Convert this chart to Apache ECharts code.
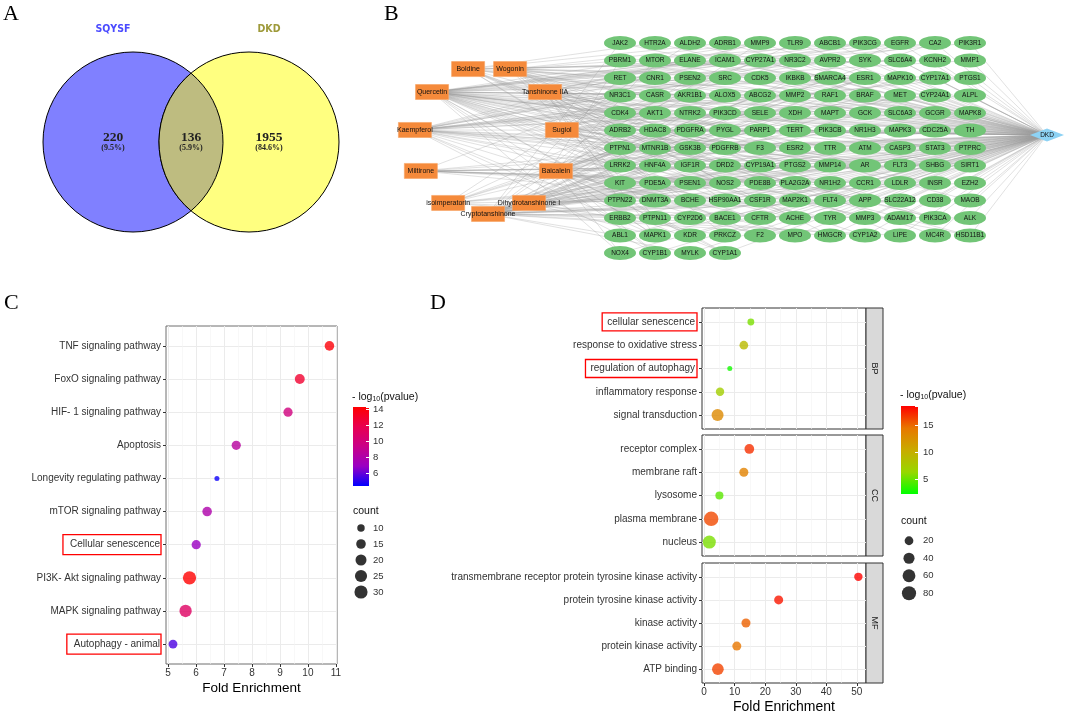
<!DOCTYPE html>
<html><head><meta charset="utf-8">
<script src="https://cdn.jsdelivr.net/npm/echarts@6/dist/echarts.min.js"></script>
<style>html,body{margin:0;padding:0;background:#fff}#c{width:1065px;height:717px}</style>
</head><body><div id="c"></div>
<script>
// ===== Panel A : Venn =====
const vennSets = ['SQYSF', 'DKD'];
const vennRegions = ['SQYSF only', 'DKD only', 'both'];
const vennCounts = [220, 1955, 136];

// ===== Panel B : network =====
const compounds = ['Boldine','Wogonin','Quercetin','Tanshinone IIA','Kaempferol','Sugiol','Miltirone','Baicalein','isoimperatorin','Dihydrotanshinone I','Cryptotanshinone'];
const targets = [
 'JAK2','HTR2A','ALDH2','ADRB1','MMP9','TLR9','ABCB1','PIK3CG','EGFR','CA2','PIK3R1',
 'PBRM1','MTOR','ELANE','ICAM1','CYP27A1','NR3C2','AVPR2','SYK','SLC6A4','KCNH2','MMP1',
 'RET','CNR1','PSEN2','SRC','CDK5','IKBKB','SMARCA4','ESR1','MAPK10','CYP17A1','PTGS1',
 'NR3C1','CASR','AKR1B1','ALOX5','ABCG2','MMP2','RAF1','BRAF','MET','CYP24A1','ALPL',
 'CDK4','AKT1','NTRK2','PIK3CD','SELE','XDH','MAPT','GCK','SLC6A3','GCGR','MAPK8',
 'ADRB2','HDAC8','PDGFRA','PYGL','PARP1','TERT','PIK3CB','NR1H3','MAPK3','CDC25A','TH',
 'PTPN1','MTNR1B','GSK3B','PDGFRB','F3','ESR2','TTR','ATM','CASP3','STAT3','PTPRC',
 'LRRK2','HNF4A','IGF1R','DRD2','CYP19A1','PTGS2','MMP14','AR','FLT3','SHBG','SIRT1',
 'KIT','PDE5A','PSEN1','NOS2','PDE8B','PLA2G2A','NR1H2','CCR1','LDLR','INSR','EZH2',
 'PTPN22','DNMT3A','BCHE','HSP90AA1','CSF1R','MAP2K1','FLT4','APP','SLC22A12','CD38','MAOB',
 'ERBB2','PTPN11','CYP2D6','BACE1','CFTR','ACHE','TYR','MMP3','ADAM17','PIK3CA','ALK',
 'ABL1','MAPK1','KDR','PRKCZ','F2','MPO','HMGCR','CYP1A2','LIPE','MC4R','HSD11B1',
 'NOX4','CYP1B1','MYLK','CYP1A1'];
const disease = 'DKD';
const linksBoldine = ['ADRB1','ADRB2','HTR2A','AVPR2','CNR1','DRD2','ACHE','BCHE','KCNH2','SLC6A4','SLC6A3','MC4R','MTNR1B','CASR','PDE5A','TH','MAOB'];
const linksWogonin = ['PTGS1','PTGS2','ESR1','AR','CDK4','CDK5','AKT1','ALOX5','PIK3CG','ICAM1','CYP19A1','MMP9','MAPK8','NOS2','GSK3B','PDE5A','HSP90AA1','KIT','RAF1','CASP3','STAT3'];
const linksQuercetin = ['AKT1','MAPK1','MAPK3','MAPK8','PTGS1','PTGS2','ESR1','ESR2','AR','EGFR','SRC','MMP1','MMP2','MMP3','MMP9','ICAM1','SELE','CYP1A1','CYP1B1','CYP1A2','XDH','ALOX5','ABCG2','ABCB1','CA2','ACHE','HSP90AA1','NOS2','F2','F3','KDR','SYK','PARP1','CDK4','IGF1R','INSR','SIRT1','CASP3','AKR1B1','MPO','PIK3CG','PIK3CA','PIK3R1','STAT3','GSK3B','ELANE','NOX4','TERT','PDE5A','APP'];
const linksTanshinoneIIA = ['AR','ESR1','NOS2','PTGS2','CYP19A1','MAPK1','AKT1','PRKCZ','HMGCR','LIPE','PIK3CA','PIK3CG','PTPN1','PTPN11','PTPN22','CDC25A','ELANE','TTR','NR3C1','STAT3','MMP9'];
const linksKaempferol = ['PTGS1','PTGS2','ESR1','ESR2','AR','AKT1','CYP1A1','CYP1B1','CYP19A1','ALOX5','ABCG2','XDH','SRC','EGFR','IGF1R','MAPK1','PIK3CG','ICAM1','SELE','CA2','ACHE','HSD11B1','F2','NOS2','CDK4','GSK3B','MMP2','MMP9','SHBG','PARP1','CASP3'];
const linksSugiol = ['MAPK3','PIK3CA','NR3C1','NR3C2','CYP17A1','CYP24A1','AR','ESR1','ESR2','SHBG','CYP27A1','NR1H3','NR1H2','HSD11B1','ALPL','GCGR'];
const linksMiltirone = ['ESR2','SHBG','NR1H2','NR1H3','PDE5A','PDE8B','AR','NR3C1','PTGS2','NOS2','CYP19A1','HSP90AA1','PLA2G2A','CCR1'];
const linksBaicalein = ['ALOX5','PTGS2','XDH','AKR1B1','CYP1A1','CYP1B1','ABCG2','MMP2','MMP9','AKT1','MAPK1','EGFR','KDR','ESR1','SIRT1','CA2','NOX4','TYR','APP','BACE1','MPO','PARP1','GSK3B','CFTR','PTPN1','MTOR'];
const linksIsoimperatorin = ['ACHE','PTGS2','ESR1','AR','NOS2','BCHE','CYP1A2','PTPN1','ALDH2','TLR9','HDAC8','MAPT'];
const linksDihydrotanshinoneI = ['AR','ESR1','PTGS2','NOS2','CYP19A1','PTPN1','CDC25A','PRKCZ','MAPK1','LDLR','EZH2','DNMT3A','SMARCA4','PBRM1'];
const linksCryptotanshinone = ['AR','ESR1','ESR2','PTGS2','NOS2','STAT3','CYP19A1','JAK2','PTPN1','ATM','CDK4','HNF4A','LRRK2','RET','MET','ALK','BRAF','KIT','ERBB2','ABL1','FLT4','FLT3','CSF1R','PDGFRA','PDGFRB','IKBKB','MAP2K1','ADAM17','PSEN1','PSEN2','GCK','PYGL','RAF1','TERT','MYLK','CD38','SLC22A12','INSR','PTPRC','NTRK2','PIK3CD','PIK3CB','MAPK10','MMP14','DRD2','CYP2D6','HMGCR','LIPE'];

// ===== Panel C : KEGG =====
const keggTerms = ['TNF signaling pathway','FoxO signaling pathway','HIF- 1 signaling pathway','Apoptosis','Longevity regulating pathway','mTOR signaling pathway','Cellular senescence','PI3K- Akt signaling pathway','MAPK signaling pathway','Autophagy - animal'];
const keggFold = [10.77, 9.71, 9.29, 7.44, 6.75, 6.40, 6.01, 5.77, 5.63, 5.18];
const keggCount = [15, 16, 14, 14, 8, 15, 14, 31, 26, 13];
const keggLogP = [14.0, 12.8, 9.8, 8.4, 4.6, 7.9, 6.9, 14.25, 11.0, 5.6];
const keggBoxed = ['Cellular senescence', 'Autophagy - animal'];
const keggLogPRange = [4.4, 14.25];
const keggCountTicks = [10, 15, 20, 25, 30];

// ===== Panel D : GO =====
const goFacets = ['BP', 'CC', 'MF'];
const bpTerms = ['cellular senescence','response to oxidative stress','regulation of autophagy','inflammatory response','signal transduction'];
const bpFold = [15.3, 13.0, 8.4, 5.2, 4.4];
const bpCount = [11, 20, 8, 18, 50];
const bpLogP = [5.5, 9.0, 2.7, 7.1, 13.0];
const ccTerms = ['receptor complex','membrane raft','lysosome','plasma membrane','nucleus'];
const ccFold = [14.8, 13.0, 5.0, 2.3, 1.7];
const ccCount = [27, 22, 16, 85, 63];
const ccLogP = [16.9, 13.6, 4.6, 16.0, 5.5];
const mfTerms = ['transmembrane receptor protein tyrosine kinase activity','protein tyrosine kinase activity','kinase activity','protein kinase activity','ATP binding'];
const mfFold = [50.5, 24.4, 13.7, 10.7, 4.5];
const mfCount = [18, 22, 22, 22, 46];
const mfLogP = [18.4, 17.7, 15.2, 14.4, 16.2];
const goBoxed = ['cellular senescence', 'regulation of autophagy'];
const goLogPRange = [2.2, 18.5];
const goCountTicks = [20, 40, 60, 80];

// ===== layout & style (not data) =====
const SANS = 'Liberation Sans, Arial, sans-serif';
const SERIF = 'Liberation Serif, Times New Roman, serif';
const vennLayout = { cx: [133, 249], cy: 142, r: 90, shift: 20, titleY: 29 };
const vennFill = ['#8080FF', '#FFFF80', '#BEBC80'];
const vennTitleColor = ['#4B4BFF', '#9E9A3A'];
const compoundLayout = [[-4.34,1.49],[-3.14,1.49],[-5.37,2.8],[-2.14,2.8],[-5.86,4.97],[-1.66,4.97],[-5.69,7.31],[-1.83,7.31],[-4.91,9.14],[-2.6,9.14],[-3.77,9.77]];
const targetCols = 11;
const diseaseLayout = [12.2, 5.26];
const blueRed = ['#0000FF', '#9A00C3', '#C90088', '#E80050', '#FF0000'];
const greenRed = ['#00FF00', '#98D700', '#C9AB00', '#E87700', '#FF0000'];
const dLeft = 702, dWidth = 164, dTops = [308, 435, 563], dHeights = [121, 121, 120];

const chart = echarts.init(document.getElementById('c'));

const total = vennCounts.reduce((a, b) => a + b, 0);
const pct = v => '(' + (v / total * 100).toFixed(1) + '%)';

function renderVenn(params, api) {
  const k = params.dataIndex;
  const c0 = api.coord([vennLayout.cx[0], vennLayout.cy]);
  const c1 = api.coord([vennLayout.cx[1], vennLayout.cy]);
  const r = api.size([vennLayout.r, 0])[0];
  const sh = api.size([vennLayout.shift, 0])[0];
  const count = api.value(0);
  const ch = [];
  let lx;
  if (k < 2) {
    const c = k === 0 ? c0 : c1;
    ch.push({ type: 'circle', shape: { cx: c[0], cy: c[1], r: r }, style: { fill: vennFill[k], stroke: '#000', lineWidth: 1 } });
    lx = k === 0 ? c0[0] - sh : c1[0] + sh;
    ch.push({ type: 'text', x: lx, y: api.coord([0, vennLayout.titleY])[1],
      style: { text: vennSets[k], fontSize: 10.5, fontWeight: 'bold', fontFamily: 'Liberation Sans Narrow, DejaVu Sans Condensed, sans-serif', fill: vennTitleColor[k], align: 'center', verticalAlign: 'middle' } });
  } else {
    const d = c1[0] - c0[0];
    const h = Math.sqrt(r * r - d * d / 4);
    const mx = (c0[0] + c1[0]) / 2;
    const p = `M${mx} ${c0[1] - h} A${r} ${r} 0 0 1 ${mx} ${c0[1] + h} A${r} ${r} 0 0 1 ${mx} ${c0[1] - h} Z`;
    ch.push({ type: 'path', shape: { pathData: p }, style: { fill: vennFill[2], stroke: '#000', lineWidth: 1 } });
    lx = mx;
  }
  ch.push({ type: 'text', x: lx, y: c0[1] - 4, style: { text: String(count), fontSize: 13.5, fontWeight: 'bold', fontFamily: SERIF, fill: '#222', align: 'center', verticalAlign: 'middle' } });
  ch.push({ type: 'text', x: lx, y: c0[1] + 6, style: { text: pct(count), fontSize: 8, fontWeight: 'bold', fontFamily: SERIF, fill: '#222', align: 'center', verticalAlign: 'middle' } });
  return { type: 'group', children: ch };
}

// network nodes and links
const nodes = [];
compounds.forEach((n, i) => nodes.push({ name: n, value: compoundLayout[i], symbol: 'rect', symbolSize: [33, 15],
  itemStyle: { color: '#F58A3B', borderColor: '#F7A463', borderWidth: 0.6 }, label: { fontSize: 7, color: '#111' } }));
targets.forEach((n, i) => nodes.push({ name: n, value: [i % targetCols, Math.floor(i / targetCols)], symbol: 'circle', symbolSize: [32, 14],
  itemStyle: { color: '#72C577' } }));
nodes.push({ name: disease, value: diseaseLayout, symbol: 'diamond', symbolSize: [34, 13], itemStyle: { color: '#8DD2F4' } });
const compoundLinks = [linksBoldine, linksWogonin, linksQuercetin, linksTanshinoneIIA, linksKaempferol, linksSugiol, linksMiltirone, linksBaicalein, linksIsoimperatorin, linksDihydrotanshinoneI, linksCryptotanshinone];
const tset = new Set(targets);
const links = [];
compounds.forEach((c, i) => compoundLinks[i].forEach(t => { if (tset.has(t)) links.push({ source: c, target: t }); }));
targets.forEach(t => links.push({ source: t, target: disease }));

// size scales
const cMin = Math.min(...keggCount), cMax = Math.max(...keggCount);
const sizeC = v => 5 + 8.3 * Math.sqrt(Math.max(0, (v - cMin) / (cMax - cMin)));
const allD = bpCount.concat(ccCount, mfCount);
const dMin = Math.min(...allD), dMax = Math.max(...allD);
const sizeD = v => 5 + 9.5 * Math.sqrt(Math.max(0, (v - dMin) / (dMax - dMin)));

const isInt = v => Math.abs(v - Math.round(v)) < 1e-6;
function catFormatter(terms, boxed) {
  return v => {
    if (!isInt(v)) return '';
    const i = Math.round(v);
    if (i < 0 || i >= terms.length) return '';
    return boxed.includes(terms[i]) ? '{box|' + terms[i] + '}' : terms[i];
  };
}
const gridLine = { show: true, lineStyle: { color: '#EBEBEB', width: 1 } };
const minorLine = { show: true, lineStyle: { color: '#F4F4F4', width: 0.6 } };
const tickStyle = { show: true, length: 3, lineStyle: { color: '#333', width: 1 } };
const noLine = { show: false, onZero: false };

function gradRender(palette) {
  return (params, api) => {
    const p0 = api.coord([0, api.value(1)]);
    const p1 = api.coord([1, api.value(0)]);
    const stops = palette.slice().reverse().map((c, i, a) => ({ offset: i / (a.length - 1), color: c }));
    return { type: 'rect', shape: { x: p0[0], y: p0[1], width: p1[0] - p0[0], height: p1[1] - p0[1] },
      style: { fill: new echarts.graphic.LinearGradient(0, 0, 0, 1, stops) } };
  };
}

const grids = [
  { left: 0, top: 0, width: 360, height: 300 },
  { left: 375, top: 25.5, width: 682.5, height: 245 },
  { left: 166, top: 326, width: 171, height: 338, show: true, borderColor: '#6E6E6E', borderWidth: 1, backgroundColor: '#fff' },
  { left: 353, top: 407, width: 16, height: 79 },
  { left: 355, top: 520, width: 12, height: 80 }
];
dTops.forEach((t, k) => grids.push({ left: dLeft, top: t, width: dWidth, height: dHeights[k], show: true, borderColor: '#333', borderWidth: 1, backgroundColor: '#fff' }));
grids.push({ left: 901, top: 406, width: 17, height: 88 });
grids.push({ left: 903, top: 532, width: 12, height: 70 });
grids.forEach(g => { g.outerBoundsMode = 'none'; g.containLabel = false; });

const xAxes = [
  { gridIndex: 0, type: 'value', min: 0, max: 360, show: false },
  { gridIndex: 1, type: 'value', min: -7, max: 12.5, show: false },
  { gridIndex: 2, type: 'value', min: 4.93, max: 11.04, minInterval: 1, maxInterval: 1, position: 'bottom',
    axisLine: noLine, axisTick: Object.assign({ customValues: [5,6,7,8,9,10,11] }, tickStyle),
    axisLabel: { formatter: v => isInt(v) ? String(Math.round(v)) : '', fontSize: 10, color: '#333', margin: 4, fontFamily: SANS },
    splitLine: gridLine, minorTick: { show: false, splitNumber: 2 }, minorSplitLine: minorLine,
    name: 'Fold Enrichment', nameLocation: 'middle', nameGap: 17, nameTextStyle: { fontSize: 13.5, color: '#000', fontFamily: SANS } },
  { gridIndex: 3, type: 'value', min: 0, max: 1, show: false },
  { gridIndex: 4, type: 'value', min: -1, max: 1, show: false }
];
const yAxes = [
  { gridIndex: 0, type: 'value', min: 0, max: 300, inverse: true, show: false },
  { gridIndex: 1, type: 'value', min: -1, max: 13, inverse: true, show: false },
  { gridIndex: 2, type: 'value', min: -0.6, max: keggTerms.length - 0.4, inverse: true, minInterval: 1, maxInterval: 1, position: 'left',
    axisLine: noLine, axisTick: Object.assign({ customValues: keggTerms.map((_, i) => i) }, tickStyle),
    axisLabel: { formatter: catFormatter(keggTerms, keggBoxed), fontSize: 10, color: '#333', margin: 5, fontFamily: SANS,
      rich: { box: { fontSize: 10, color: '#333', fontFamily: SANS, borderColor: '#FF0000', borderWidth: 1.3, padding: [5, 1, 5, 7] } } },
    splitLine: gridLine },
  { gridIndex: 3, type: 'value', min: keggLogPRange[0], max: keggLogPRange[1], minInterval: 2, maxInterval: 2, position: 'right', z: 10,
    axisLine: noLine, axisTick: { show: true, inside: true, length: 3, lineStyle: { color: '#fff', width: 1 } },
    axisLabel: { formatter: v => isInt(v) ? String(Math.round(v)) : '', fontSize: 9.5, color: '#333', margin: 4, fontFamily: SANS },
    splitLine: { show: false } },
  { gridIndex: 4, type: 'category', data: keggCountTicks.map(String), inverse: true, position: 'right',
    axisLine: noLine, axisTick: { show: false }, axisLabel: { fontSize: 9.5, color: '#333', margin: 6, fontFamily: SANS } }
];

const facetTerms = [bpTerms, ccTerms, mfTerms];
const facetFold = [bpFold, ccFold, mfFold];
const facetCount = [bpCount, ccCount, mfCount];
const facetLogP = [bpLogP, ccLogP, mfLogP];
goFacets.forEach((f, k) => {
  const last = k === goFacets.length - 1;
  xAxes.push({ gridIndex: 5 + k, type: 'value', min: -0.7, max: 53, minInterval: 10, maxInterval: 10, position: 'bottom',
    axisLine: noLine,
    axisTick: Object.assign({ customValues: [0, 10, 20, 30, 40, 50] }, tickStyle, { show: last }),
    axisLabel: { show: last, formatter: v => (isInt(v) && Math.round(v) % 10 === 0) ? String(Math.round(v)) : '', fontSize: 10, color: '#333', margin: 4, fontFamily: SANS },
    splitLine: gridLine, minorTick: { show: false, splitNumber: 2 }, minorSplitLine: minorLine,
    name: last ? 'Fold Enrichment' : '', nameLocation: 'middle', nameGap: 17, nameTextStyle: { fontSize: 14, color: '#000', fontFamily: SANS } });
  yAxes.push({ gridIndex: 5 + k, type: 'value', min: -0.6, max: facetTerms[k].length - 0.4, inverse: true, minInterval: 1, maxInterval: 1, position: 'left',
    axisLine: noLine, axisTick: Object.assign({ customValues: facetTerms[k].map((_, i) => i) }, tickStyle),
    axisLabel: { formatter: catFormatter(facetTerms[k], goBoxed), fontSize: 10, color: '#333', margin: 5, fontFamily: SANS,
      rich: { box: { fontSize: 10, color: '#333', fontFamily: SANS, borderColor: '#FF0000', borderWidth: 1.3, padding: [4, 2, 4, 5] } } },
    splitLine: gridLine });
});
xAxes.push({ gridIndex: 8, type: 'value', min: 0, max: 1, show: false });
yAxes.push({ gridIndex: 8, type: 'value', min: goLogPRange[0], max: goLogPRange[1], minInterval: 5, maxInterval: 5, position: 'right', z: 10,
  axisLine: noLine, axisTick: { show: true, inside: true, length: 3, lineStyle: { color: '#fff', width: 1 } },
  axisLabel: { formatter: v => isInt(v) ? String(Math.round(v)) : '', fontSize: 9.5, color: '#333', margin: 5, fontFamily: SANS },
  splitLine: { show: false } });
xAxes.push({ gridIndex: 9, type: 'value', min: -1, max: 1, show: false });
yAxes.push({ gridIndex: 9, type: 'category', data: goCountTicks.map(String), inverse: true, position: 'right',
  axisLine: noLine, axisTick: { show: false }, axisLabel: { fontSize: 9.5, color: '#333', margin: 8, fontFamily: SANS } });

const series = [
  { type: 'custom', xAxisIndex: 0, yAxisIndex: 0, renderItem: renderVenn, data: vennCounts.map(v => [v]), silent: true },
  { type: 'graph', coordinateSystem: 'cartesian2d', xAxisIndex: 1, yAxisIndex: 1, layout: 'none', roam: false, silent: true,
    data: nodes, links: links, edgeSymbol: ['none', 'none'],
    label: { show: true, position: 'inside', fontSize: 6.5, color: '#111', fontFamily: SANS },
    lineStyle: { color: '#999', width: 0.5, opacity: 0.6, curveness: 0 } },
  { type: 'scatter', xAxisIndex: 2, yAxisIndex: 2, silent: true,
    data: keggTerms.map((t, i) => [keggFold[i], i, keggCount[i], keggLogP[i]]),
    symbolSize: v => sizeC(v[2]) },
  { type: 'custom', xAxisIndex: 3, yAxisIndex: 3, silent: true, renderItem: gradRender(blueRed), data: [keggLogPRange] },
  { type: 'scatter', xAxisIndex: 4, yAxisIndex: 4, silent: true, itemStyle: { color: '#000' },
    data: keggCountTicks.map((v, i) => [0, i, v]), symbolSize: v => sizeC(v[2]) }
];
goFacets.forEach((f, k) => series.push({ type: 'scatter', xAxisIndex: 5 + k, yAxisIndex: 5 + k, silent: true,
  data: facetTerms[k].map((t, i) => [facetFold[k][i], i, facetCount[k][i], facetLogP[k][i]]),
  symbolSize: v => sizeD(v[2]) }));
series.push({ type: 'custom', xAxisIndex: 8, yAxisIndex: 8, silent: true, renderItem: gradRender(greenRed), data: [goLogPRange] });
series.push({ type: 'scatter', xAxisIndex: 9, yAxisIndex: 9, silent: true, itemStyle: { color: '#000' },
  data: goCountTicks.map((v, i) => [0, i, v]), symbolSize: v => sizeD(v[2]) });

const letter = (t, l, tp) => ({ text: t, left: l, top: tp, padding: 0, textStyle: { fontFamily: SERIF, fontSize: 22, fontWeight: 'normal', color: '#000' } });
const legTitle = (t, l, tp) => ({ text: t, left: l, top: tp, padding: 0, textStyle: { fontFamily: SANS, fontSize: 10.5, fontWeight: 'normal', color: '#111',
  rich: { s: { fontFamily: SANS, fontSize: 7, color: '#111', padding: [5, 0, 0, 0] } } } });

const graphic = [];
goFacets.forEach((f, k) => {
  const x0 = dLeft + dWidth;
  graphic.push({ type: 'rect', shape: { x: x0, y: dTops[k], width: 17, height: dHeights[k] }, style: { fill: '#D9D9D9', stroke: '#333', lineWidth: 1 }, silent: true });
  graphic.push({ type: 'text', x: x0 + 8.5, y: dTops[k] + dHeights[k] / 2, rotation: -Math.PI / 2, silent: true,
    style: { text: f, fontSize: 9, fontFamily: SANS, fill: '#222', align: 'center', verticalAlign: 'middle', textAlign: 'center', textVerticalAlign: 'middle' } });
});

chart.setOption({
  animation: false,
  backgroundColor: '#fff',
  textStyle: { fontFamily: SANS },
  title: [
    letter('A', 3, 3), letter('B', 384, 3), letter('C', 4, 292), letter('D', 430, 292),
    legTitle('- log{s|10}(pvalue)', 352, 391), legTitle('count', 353, 506),
    legTitle('- log{s|10}(pvalue)', 900, 389), legTitle('count', 901, 516)
  ],
  grid: grids,
  xAxis: xAxes,
  yAxis: yAxes,
  visualMap: [
    { type: 'continuous', show: false, seriesIndex: 2, dimension: 3, min: keggLogPRange[0], max: keggLogPRange[1], inRange: { color: blueRed } },
    { type: 'continuous', show: false, seriesIndex: [5, 6, 7], dimension: 3, min: goLogPRange[0], max: goLogPRange[1], inRange: { color: greenRed } }
  ],
  graphic: graphic,
  series: series
});
</script></body></html>
